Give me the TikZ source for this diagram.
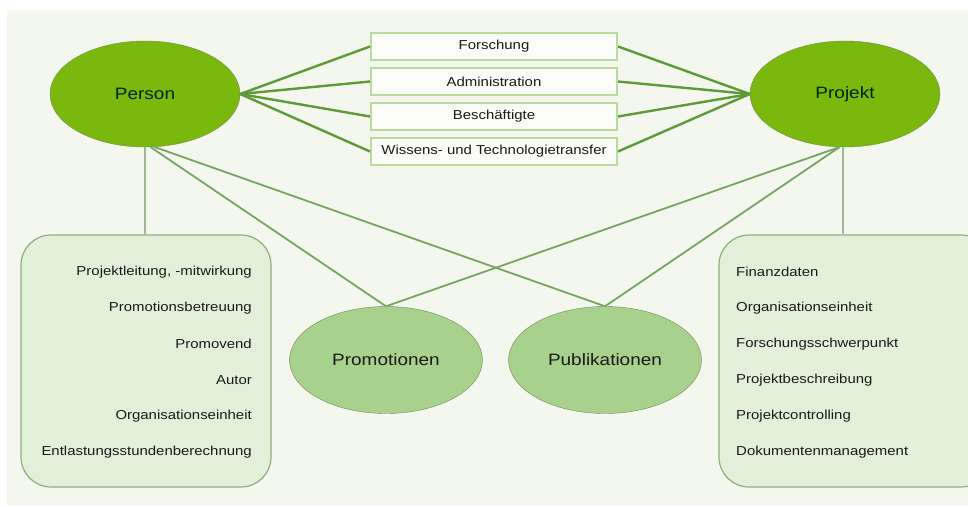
\documentclass[tikz,border=0pt]{standalone}
\usepackage{fontspec}
\setmainfont{Liberation Sans}[FakeStretch=1.15]
\usetikzlibrary{shapes.geometric}

\definecolor{bgcol}{HTML}{F4F7EE}
\definecolor{maingreen}{HTML}{7AB80E}
\definecolor{softgreen}{HTML}{A9D18E}
\definecolor{palegreen}{HTML}{E2F0D9}
\definecolor{ellrim}{HTML}{6E8F52}
\definecolor{boxrim}{HTML}{B9DB9E}
\definecolor{inforim}{HTML}{8FAE7E}
\definecolor{linkcol}{HTML}{5F9A3A}
\definecolor{difcol}{HTML}{78A465}
\definecolor{stemcol}{HTML}{A0B895}
\definecolor{txtcol}{HTML}{1A1A1A}

\begin{document}
\begin{tikzpicture}[x=1pt,y=-1pt,
		bigell/.style={ellipse,draw=ellrim,fill=maingreen,minimum width=190pt,minimum height=106pt,inner sep=0pt,text=black!85!green,font=\fontsize{16.5}{19}\selectfont},
		smallell/.style={ellipse,draw=ellrim,fill=softgreen,minimum width=193pt,minimum height=107pt,inner sep=0pt,text=txtcol,font=\fontsize{16.5}{19}\selectfont},
		catbox/.style={draw=boxrim,line width=2pt,fill=white!60!bgcol,minimum width=246pt,minimum height=27pt,inner sep=0pt,text=txtcol,font=\fontsize{13}{15}\selectfont},
		infobox/.style={draw=inforim,line width=1.2pt,fill=palegreen,rounded corners=30pt,inner sep=0pt},
		item/.style={inner sep=0pt,text=txtcol,font=\fontsize{13}{15}\selectfont},
		link/.style={linkcol,line width=2.4pt},
		crossline/.style={difcol,line width=1.8pt},
		stem/.style={stemcol,line width=1.5pt}]
		\useasboundingbox (0,0) rectangle (968,506);
		\clip (0,0) rectangle (968,506);
		\fill[white] (0,0) rectangle (968,506);
		\fill[bgcol] (7,10) rectangle (968,506);

		% main entities
		\node[bigell] (Person) at (145,94) {Person};
		\node[bigell] (Projekt) at (845,94) {Projekt};
		\node[smallell] (Promo) at (386,360) {Promotionen};
		\node[smallell] (Publ) at (605,360) {Publikationen};

		% shared categories
		\foreach \txt [count=\i] in {Forschung, Administration, Beschäftigte, Wissens- und Technologietransfer}
			\node[catbox] (B\i) at (494,{11.5+35*\i}) {\txt};

		% attribute boxes
		\node[infobox,minimum width=250pt,minimum height=252pt] (PersonInfo) at (146,361) {};
		\node[infobox,minimum width=272pt,minimum height=252pt] (ProjektInfo) at (855,361) {};
		\foreach \txt [count=\i] in {Projektleitung{,} -mitwirkung, Promotionsbetreuung, Promovend, Autor, Organisationseinheit, Entlastungsstundenberechnung}
			\node[item,anchor=east] (L\i) at (252,{236+36*\i}) {\txt};
		\foreach \txt [count=\i] in {Finanzdaten, Organisationseinheit, Forschungsschwerpunkt, Projektbeschreibung, Projektcontrolling, Dokumentenmanagement}
			\node[item,anchor=west] (R\i) at (736,{236+36*\i}) {\txt};

		% connectors
		\foreach \i in {1,...,4} {
			\draw[link] (Person.east) -- (B\i.west);
			\draw[link] (Projekt.west) -- (B\i.east);
		}
		\draw[stem] (Person.south) -- (Person.south |- PersonInfo.north);
		\draw[stem] (Projekt.-92) -- (Projekt.-92 |- ProjektInfo.north);
		\draw[crossline] (Person.-84) -- (Promo.north);
		\draw[crossline] (Person.-80) -- (Publ.north);
		\draw[crossline] (Projekt.-96) -- (Promo.north);
		\draw[crossline] (Projekt.-96) -- (Publ.north);
	\end{tikzpicture}
\end{document}
